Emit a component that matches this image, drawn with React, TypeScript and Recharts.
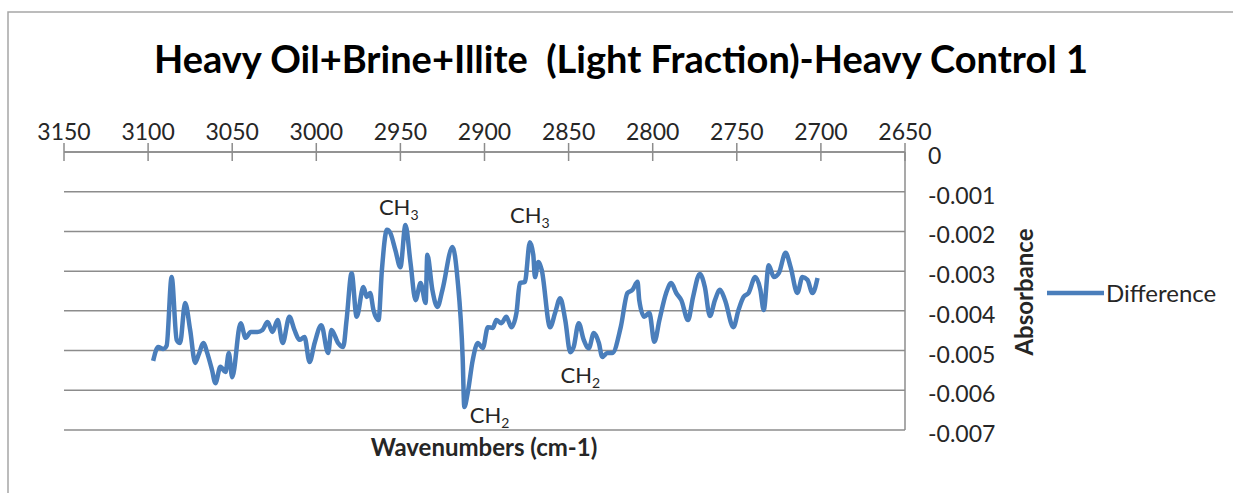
import React from 'react';
import { LineChart, Line, XAxis, YAxis, CartesianGrid, Legend, ReferenceDot } from 'recharts';

const wavenumbers = [
  3097, 3094, 3091, 3089, 3086, 3083, 3081, 3078, 3075, 3072,
  3070, 3067, 3065, 3062, 3060, 3057, 3054, 3052, 3050, 3045,
  3042, 3039, 3035, 3032, 3029, 3026, 3023, 3020, 3016, 3013,
  3010, 3007, 3004, 3001, 2997, 2993, 2991, 2987, 2984, 2982,
  2979, 2976, 2972, 2970, 2968, 2966, 2963, 2961, 2958, 2956,
  2953, 2950, 2947, 2944, 2941, 2938, 2935, 2934, 2931, 2928,
  2925, 2919, 2916, 2913, 2912, 2910, 2907, 2904, 2901, 2898,
  2895, 2893, 2890, 2887, 2884, 2881, 2879, 2876, 2873, 2871,
  2870, 2868, 2866, 2861, 2858, 2855, 2852, 2849, 2847, 2844,
  2841, 2838, 2835, 2832, 2830, 2827, 2824, 2819, 2815, 2812,
  2809, 2808, 2805, 2802, 2799, 2796, 2792, 2789, 2786, 2783,
  2779, 2776, 2772, 2769, 2766, 2763, 2760, 2757, 2752, 2749,
  2746, 2743, 2739, 2736, 2734, 2731, 2728, 2725, 2721, 2718,
  2714, 2711, 2708, 2705, 2702,
];

const difference = [
  -0.00526, -0.00491, -0.00496, -0.00488, -0.00315, -0.00473, -0.00481, -0.0038, -0.00448, -0.00531,
  -0.00511, -0.00481, -0.00504, -0.00549, -0.00582, -0.00541, -0.00554, -0.00506, -0.00567, -0.00431,
  -0.00468, -0.00453, -0.00453, -0.00448, -0.00428, -0.00453, -0.00423, -0.00481, -0.00415, -0.00448,
  -0.00473, -0.00466, -0.00529, -0.00481, -0.00436, -0.00506, -0.00448, -0.00481, -0.00491, -0.00423,
  -0.00305, -0.00415, -0.0034, -0.00365, -0.00355, -0.00398, -0.00423, -0.00297, -0.00196, -0.00204,
  -0.00247, -0.0029, -0.00184, -0.00279, -0.00373, -0.0033, -0.0038, -0.00259, -0.00347, -0.0039,
  -0.00347, -0.00239, -0.00322, -0.00516, -0.00642, -0.00607, -0.00524, -0.00481, -0.00494, -0.00441,
  -0.00443, -0.00423, -0.00431, -0.00415, -0.00441, -0.00405, -0.0033, -0.00327, -0.00227, -0.00259,
  -0.00315, -0.00277, -0.00297, -0.00441, -0.00405, -0.00368, -0.00423, -0.00504, -0.00491, -0.00431,
  -0.00473, -0.00494, -0.00456, -0.00481, -0.00516, -0.00506, -0.00506, -0.00441, -0.00355, -0.00347,
  -0.00327, -0.00373, -0.00415, -0.00405, -0.00478, -0.00423, -0.00355, -0.0033, -0.00355, -0.00373,
  -0.00423, -0.00365, -0.00307, -0.0034, -0.00413, -0.00373, -0.00347, -0.00373, -0.00441, -0.00398,
  -0.00365, -0.00355, -0.00315, -0.00347, -0.00398, -0.00285, -0.00315, -0.00305, -0.00254, -0.0029,
  -0.00355, -0.00315, -0.00322, -0.00355, -0.00317,
];

const xTicks = [3150, 3100, 3050, 3000, 2950, 2900, 2850, 2800, 2750, 2700, 2650];
const yTicks = [0, -0.001, -0.002, -0.003, -0.004, -0.005, -0.006, -0.007];
const yTickLabels = ['0', '-0.001', '-0.002', '-0.003', '-0.004', '-0.005', '-0.006', '-0.007'];

const annotationX = [2951, 2873, 2897, 2843];
const annotationY = [-0.00138, -0.00159, -0.00662, -0.00562];
const annotationBase = ['CH', 'CH', 'CH', 'CH'];
const annotationSub = ['3', '3', '2', '2'];

const data = wavenumbers.map((w, i) => ({ wavenumber: w, difference: difference[i] }));

const FONT = 'Lato, "Open Sans", sans-serif';
const LINE_COLOR = '#4a7ebb';
const GRID = '#8c8c8c';

const XTick = (props: any) => {
  const { x, y, payload } = props;
  return (
    <g>
      <line x1={x} x2={x} y1={y - 9} y2={y + 9} stroke={GRID} strokeWidth={1.5} />
      <text x={x} y={y - 12} textAnchor="middle" fontFamily={FONT} fontSize={23} fill="#262626">
        {payload.value}
      </text>
    </g>
  );
};

const YTick = (props: any) => {
  const { x, y, payload } = props;
  const idx = yTicks.findIndex((t) => Math.abs(t - payload.value) < 1e-9);
  const label = idx >= 0 ? yTickLabels[idx] : String(payload.value);
  return (
    <text x={x + 23} y={y + 3} textAnchor="start" dominantBaseline="central" fontFamily={FONT} fontSize={23} fill="#262626">
      {label}
    </text>
  );
};

const makeAnnotation = (base: string, sub: string) => (props: any) => {
  const vb = props.viewBox || {};
  const cx = (vb.x || 0) + (vb.width || 0) / 2;
  const cy = (vb.y || 0) + (vb.height || 0) / 2;
  return (
    <text x={cx} y={cy + 8} textAnchor="middle" fontFamily={FONT} fontSize={22} fill="#262626">
      {base}
      <tspan fontSize={14} dy={5}>{sub}</tspan>
    </text>
  );
};

const LegendContent = () => (
  <div style={{ display: 'flex', alignItems: 'center', fontFamily: FONT, fontSize: 24, color: '#262626', whiteSpace: 'nowrap' }}>
    <svg width={57} height={8} style={{ display: 'block' }}>
      <line x1={0} x2={57} y1={4} y2={4} stroke={LINE_COLOR} strokeWidth={4.5} />
    </svg>
    <span style={{ marginLeft: 2, lineHeight: '28px' }}>Difference</span>
  </div>
);

export default function App() {
  return (
    <div style={{ position: 'absolute', left: 0, top: 0, width: 1233, height: 493, background: '#fff' }}>
      <LineChart
        width={1233}
        height={493}
        data={data}
        margin={{ top: 122, right: 268, bottom: 63, left: 64 }}
      >
        <rect x={8} y={12} width={1400} height={700} fill="none" stroke="#a6a6a6" strokeWidth={1.5} />
        <text
          x={621}
          y={73}
          textAnchor="middle"
          fontFamily={FONT}
          fontWeight={700}
          fontSize={38}
          fill="#000"
          style={{ whiteSpace: 'pre' }}
        >
          {'Heavy Oil+Brine+Illite  (Light Fraction)-Heavy Control 1'}
        </text>
        <CartesianGrid horizontal vertical={false} stroke={GRID} strokeWidth={1.5} />
        <XAxis
          dataKey="wavenumber"
          type="number"
          orientation="top"
          domain={[2650, 3150]}
          ticks={xTicks}
          reversed
          height={30}
          tickSize={0}
          tickMargin={0}
          tickLine={false}
          axisLine={{ stroke: GRID, strokeWidth: 1.5 }}
          tick={<XTick />}
          interval={0}
          allowDataOverflow
        />
        <YAxis
          type="number"
          orientation="right"
          domain={[-0.007, 0]}
          ticks={yTicks}
          width={60}
          tickSize={0}
          tickMargin={0}
          tickLine={false}
          axisLine={{ stroke: GRID, strokeWidth: 1.5 }}
          tick={<YTick />}
          interval={0}
          allowDataOverflow
        />
        <Line
          type="monotone"
          dataKey="difference"
          name="Difference"
          stroke={LINE_COLOR}
          strokeWidth={4.5}
          dot={false}
          activeDot={false}
          isAnimationActive={false}
        />
        {annotationX.map((ax, i) => (
          <ReferenceDot
            key={i}
            x={ax}
            y={annotationY[i]}
            r={1}
            fill="none"
            stroke="none"
            label={{ content: makeAnnotation(annotationBase[i], annotationSub[i]) }}
          />
        ))}
        <text x={484} y={456} textAnchor="middle" fontFamily={FONT} fontWeight={700} fontSize={24} fill="#262626">
          Wavenumbers (cm-1)
        </text>
        <text
          x={1023}
          y={292}
          textAnchor="middle"
          dominantBaseline="central"
          transform="rotate(-90, 1023, 292)"
          fontFamily={FONT}
          fontWeight={700}
          fontSize={24}
          fill="#262626"
        >
          Absorbance
        </text>
        <Legend
          layout="vertical"
          align="center"
          verticalAlign="middle"
          content={<LegendContent />}
          wrapperStyle={{ position: 'absolute', left: 1047, top: 279, width: 'auto', height: 'auto' }}
        />
      </LineChart>
    </div>
  );
}
